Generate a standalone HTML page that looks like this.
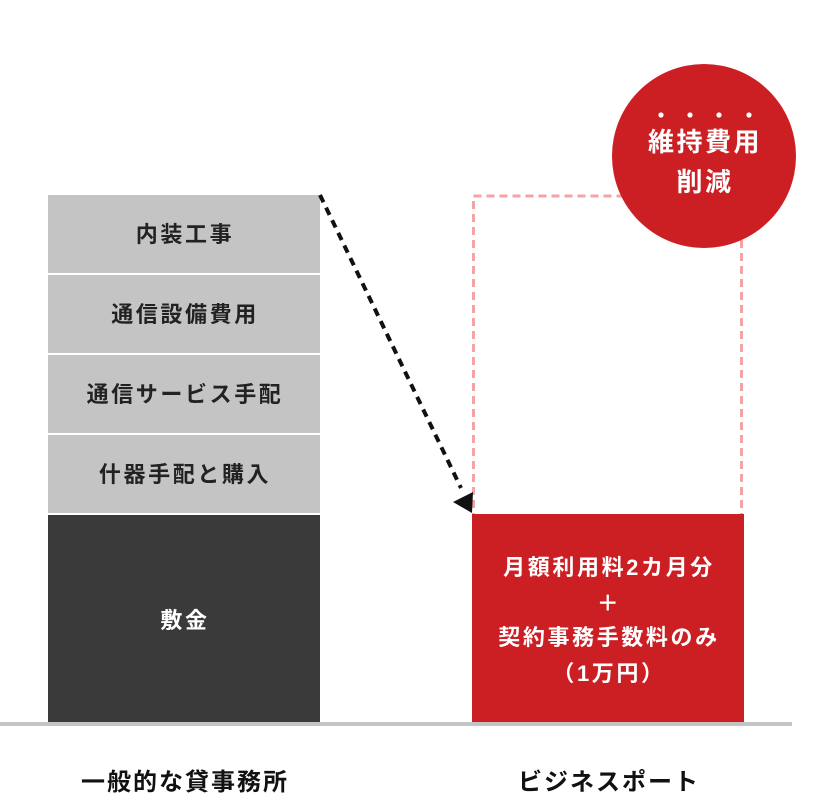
<!DOCTYPE html>
<html><head><meta charset="utf-8"><style>
html,body{margin:0;padding:0;background:#fff;}
body{width:820px;height:798px;overflow:hidden;}
svg{display:block;}
text{font-family:"Liberation Sans","Noto Sans CJK JP",sans-serif;font-weight:bold;}
</style></head><body>
<svg width="820" height="798" viewBox="0 0 820 798" xmlns="http://www.w3.org/2000/svg">
<!-- left stack -->
<rect x="48" y="195" width="272" height="78" fill="#c4c4c4"/>
<rect x="48" y="275" width="272" height="78" fill="#c4c4c4"/>
<rect x="48" y="355" width="272" height="78" fill="#c4c4c4"/>
<rect x="48" y="435" width="272" height="78" fill="#c4c4c4"/>
<rect x="48" y="515" width="272" height="207" fill="#3a3a3a"/>
<g font-size="22" fill="#222" text-anchor="middle" letter-spacing="2.6">
<text x="185" y="242">内装工事</text>
<text x="185" y="322">通信設備費用</text>
<text x="185" y="402">通信サービス手配</text>
<text x="185" y="482">什器手配と購入</text>
</g>
<text x="185" y="628" font-size="22" fill="#fff" text-anchor="middle" letter-spacing="2.6">敷金</text>

<!-- pink dashed outline -->
<rect x="473.5" y="196" width="268" height="330" fill="none" stroke="#f5a3a5" stroke-width="3" stroke-dasharray="8 5"/>

<!-- red box -->
<rect x="472" y="514" width="272" height="208" fill="#cc1f24"/>
<g font-size="22" fill="#fff" text-anchor="middle" letter-spacing="2.6">
<text x="609" y="575">月額利用料2カ月分</text>
<text x="609" y="611" font-weight="normal">＋</text>
<text x="609" y="645">契約事務手数料のみ</text>
<text x="609" y="681">（1万円）</text>
</g>

<!-- baseline -->
<rect x="0" y="722" width="792" height="4" fill="#c4c4c4"/>

<!-- dotted arrow -->
<line x1="320" y1="195" x2="461" y2="488" stroke="#111" stroke-width="4" stroke-dasharray="8 6"/>
<polygon points="453,502 473,492 472,513" fill="#111"/>

<!-- circle -->
<circle cx="704" cy="156" r="92" fill="#cc1f24"/>
<g fill="#fff">
<circle cx="661" cy="115" r="2.6"/>
<circle cx="690" cy="115" r="2.6"/>
<circle cx="719" cy="115" r="2.6"/>
<circle cx="749" cy="115" r="2.6"/>
</g>
<g font-size="26" fill="#fff" text-anchor="middle" letter-spacing="2.5">
<text x="705" y="151">維持費用</text>
<text x="705" y="191">削減</text>
</g>

<!-- bottom labels -->
<g font-size="24" fill="#111" text-anchor="middle" letter-spacing="2">
<text x="185" y="790">一般的な貸事務所</text>
<text x="609" y="790">ビジネスポート</text>
</g>
</svg>
</body></html>
